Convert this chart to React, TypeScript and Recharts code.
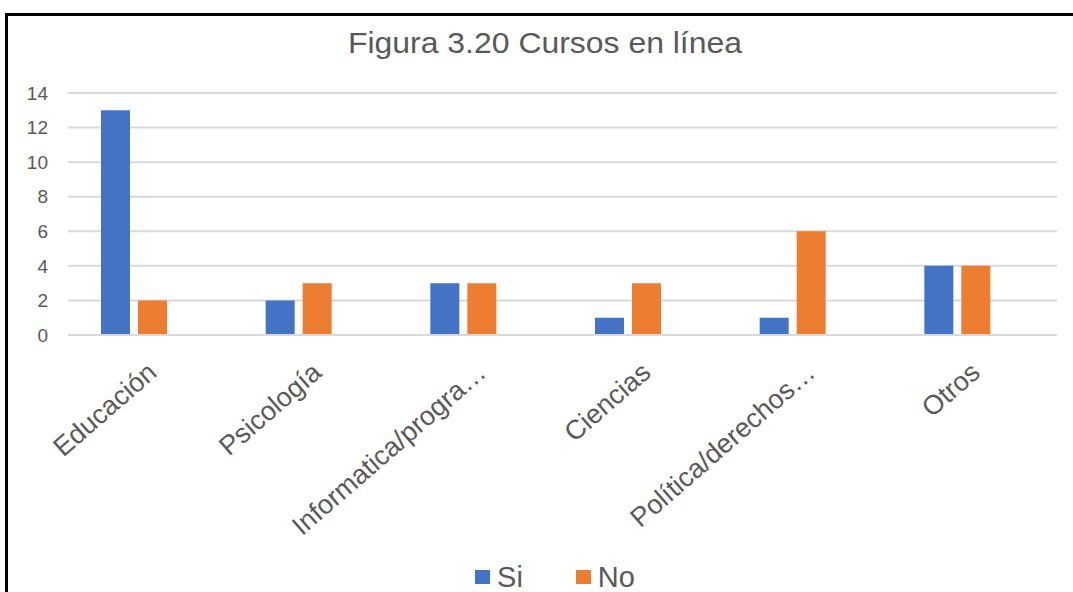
import React from 'react';
import { BarChart, Bar, XAxis, YAxis, CartesianGrid, Legend } from 'recharts';

const categories = ['Educación', 'Psicología', 'Informatica/progra…', 'Ciencias', 'Política/derechos…', 'Otros'];
const siValues = [13, 2, 3, 1, 1, 4];
const noValues = [2, 3, 3, 3, 6, 4];
const yTicks = [0, 2, 4, 6, 8, 10, 12, 14];

const BLUE = '#4472C4';
const ORANGE = '#ED7D31';
const TEXT = '#595959';
const FONT = '"Liberation Sans", Arial, sans-serif';

const data = categories.map((name, i) => ({ name, Si: siValues[i], No: noValues[i] }));

function AngledTick(props: any) {
  const { x, y, payload } = props;
  return (
    <g transform={`translate(${x + 24},${y + 32})`}>
      <text
        x={0}
        y={0}
        textAnchor="end"
        transform="rotate(-41)"
        fontSize={27}
        fill={TEXT}
        fontFamily={FONT}
      >
        {payload.value}
      </text>
    </g>
  );
}

function LegendContent() {
  const items = [
    { label: 'Si', color: BLUE, gap: 53 },
    { label: 'No', color: ORANGE, gap: 0 },
  ];
  return (
    <div style={{ height: 30, display: 'flex', justifyContent: 'center', alignItems: 'center', paddingLeft: 53 }}>
      {items.map((it) => (
        <div key={it.label} style={{ display: 'flex', alignItems: 'center', marginRight: it.gap }}>
          <span style={{ width: 15, height: 14, background: it.color, display: 'inline-block', marginRight: 7 }} />
          <span style={{ fontSize: 29, color: TEXT, fontFamily: FONT, lineHeight: '30px' }}>{it.label}</span>
        </div>
      ))}
    </div>
  );
}

export default function App() {
  return (
    <div style={{ position: 'fixed', left: 0, top: 0, width: 1073, height: 592, overflow: 'hidden', background: '#fff' }}>
      <BarChart
        width={1073}
        height={592}
        data={data}
        margin={{ top: 93, right: 16, left: 0, bottom: 0 }}
        barSize={29}
        barGap={8}
      >
        <CartesianGrid vertical={false} stroke="#d9d9d9" strokeWidth={2} />
        <XAxis
          dataKey="name"
          height={227}
          interval={0}
          tickLine={false}
          axisLine={{ stroke: '#d9d9d9', strokeWidth: 2 }}
          tick={<AngledTick />}
          padding={{ left: -16, right: 17 }}
        />
        <YAxis
          width={68}
          domain={[0, 14]}
          ticks={yTicks}
          tickLine={false}
          axisLine={false}
          tickMargin={14}
          tick={{ fontSize: 19, fill: TEXT, fontFamily: FONT }}
        />
        <Legend verticalAlign="bottom" content={<LegendContent />} />
        <Bar dataKey="Si" fill={BLUE} isAnimationActive={false} />
        <Bar dataKey="No" fill={ORANGE} isAnimationActive={false} />
      </BarChart>
      <svg style={{ position: 'absolute', left: 0, top: 0 }} width={1073} height={80}>
        <text
          x={348}
          y={53}
          fontSize={29}
          fill={TEXT}
          fontFamily={FONT}
          textLength={394}
          lengthAdjust="spacingAndGlyphs"
        >
          Figura 3.20 Cursos en línea
        </text>
      </svg>
      <div
        style={{
          position: 'absolute',
          left: 5,
          top: 13,
          width: 1100,
          height: 700,
          borderTop: '3px solid #000',
          borderLeft: '3px solid #000',
          pointerEvents: 'none',
        }}
      />
    </div>
  );
}
